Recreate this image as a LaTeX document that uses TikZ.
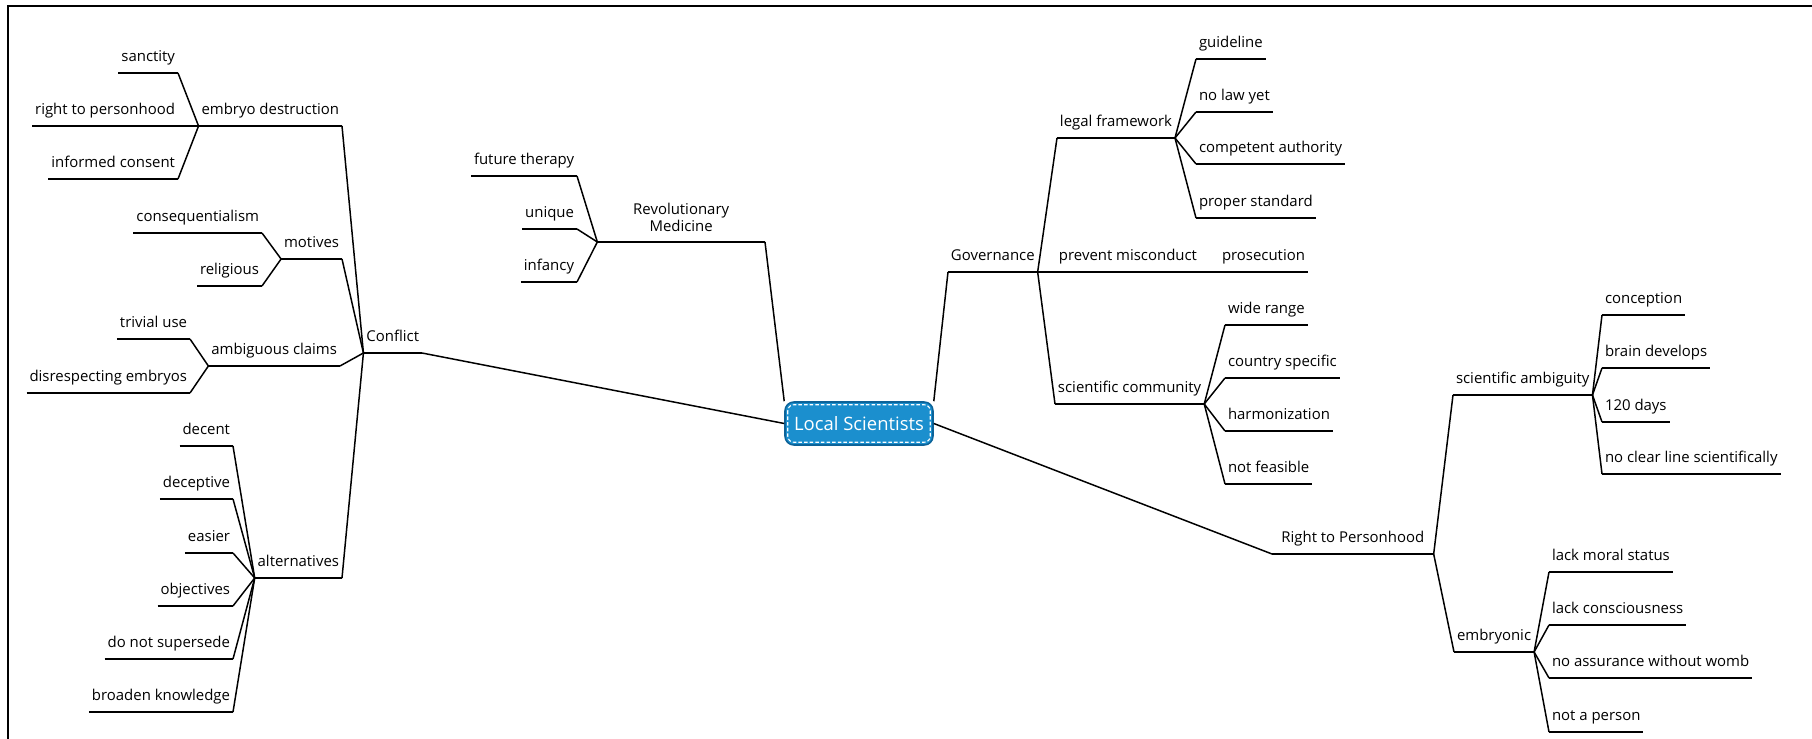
\documentclass[tikz,border=0pt]{standalone}
\usepackage{fontspec}
\setmainfont{Open Sans}
\usepackage{tikz}
\definecolor{MapBlue}{HTML}{1B8FCE}
\definecolor{MapBlueDark}{HTML}{0C6399}
\tikzset{
    % Connector style
    branch/.style={
        line width=0.85pt,
        draw=black
    },
    % Topic: text sitting on its own underline
    topic/.style={
        font=\fontsize{8.5}{10}\selectfont,
        inner xsep=1.5pt,
        inner ysep=0pt,
        text depth=6.5pt,
        append after command={(\tikzlastnode.south west) edge[branch] (\tikzlastnode.south east)}
    },
    % Topics left of the centre hang from their right end
    lefttopic/.style={
        topic,
        anchor=south east
    },
    % Topics right of the centre hang from their left end
    righttopic/.style={
        topic,
        anchor=south west
    },
    % Central topic
    centrenode/.style={
        draw=MapBlueDark,
        fill=MapBlue,
        text=white,
        line width=0.9pt,
        rounded corners=5pt,
        minimum width=2.96cm,
        minimum height=0.86cm,
        font=\fontsize{10.5}{12}\selectfont
    },
    % Dashed inner rim of the central topic
    centredash/.style={
        draw=white,
        line width=0.6pt,
        rounded corners=3.5pt,
        dash pattern=on 2pt off 1.2pt
    },
    % Page border
    borderline/.style={
        line width=0.9pt,
        draw=black
    }
}

\begin{document}
\begin{tikzpicture}[x=0.02cm, y=-0.02cm]
        \useasboundingbox (0,0) rectangle (1812,739);
        \draw[borderline] (8,739) -- (8,6) -- (1812,6);

        % Central topic
        \node[centrenode] (ls) at (859,423.5) {Local Scientists};
        \draw[centredash] ([xshift=2pt,yshift=-2pt]ls.north west) rectangle ([xshift=-2pt,yshift=2pt]ls.south east);

        % Branch 1: Conflict
        \node[lefttopic] (cf) at (422,353) {Conflict};
        \node[lefttopic] (ed) at (342,126) {embryo destruction};
        \node[lefttopic] (sa) at (178,73) {sanctity};
        \node[lefttopic] (rtp) at (178,126) {right to personhood};
        \node[lefttopic] (ic) at (178,179) {informed consent};
        \node[lefttopic] (mo) at (342,259) {motives};
        \node[lefttopic] (cq) at (262,233) {consequentialism};
        \node[lefttopic] (re) at (262,286) {religious};
        \node[lefttopic] (ac) at (340,366) {ambiguous claims};
        \node[lefttopic] (tu) at (190,339) {trivial use};
        \node[lefttopic] (de) at (190,393) {disrespecting embryos};
        \node[lefttopic] (al) at (342,578) {alternatives};
        \node[lefttopic] (dc) at (233,446) {decent};
        \node[lefttopic] (dv) at (233,499) {deceptive};
        \node[lefttopic] (ea) at (233,553) {easier};
        \node[lefttopic] (ob) at (233,606) {objectives};
        \node[lefttopic] (dn) at (233,659) {do not supersede};
        \node[lefttopic] (bk) at (233,712) {broaden knowledge};
        \draw[branch] (cf.south east) -- (ls.west);
        \draw[branch] (cf.south west) -- (ed.south east);
        \draw[branch] (cf.south west) -- (mo.south east);
        \draw[branch] (cf.south west) -- (ac.south east);
        \draw[branch] (cf.south west) -- (al.south east);
        \draw[branch] (ed.south west) -- (sa.south east);
        \draw[branch] (ed.south west) -- (rtp.south east);
        \draw[branch] (ed.south west) -- (ic.south east);
        \draw[branch] (mo.south west) -- (cq.south east);
        \draw[branch] (mo.south west) -- (re.south east);
        \draw[branch] (ac.south west) -- (tu.south east);
        \draw[branch] (ac.south west) -- (de.south east);
        \draw[branch] (al.south west) -- (dc.south east);
        \draw[branch] (al.south west) -- (dv.south east);
        \draw[branch] (al.south west) -- (ea.south east);
        \draw[branch] (al.south west) -- (ob.south east);
        \draw[branch] (al.south west) -- (dn.south east);
        \draw[branch] (al.south west) -- (bk.south east);

        % Branch 2: Revolutionary Medicine
        \node[lefttopic, align=center, text depth={}, inner ysep=5.5pt, minimum width=3.34cm] (rm) at (765,242) {Revolutionary\\Medicine};
        \node[lefttopic] (ft) at (577,176) {future therapy};
        \node[lefttopic] (un) at (577,229) {unique};
        \node[lefttopic] (inf) at (577,282) {infancy};
        \draw[branch] (rm.south east) -- (ls.north west);
        \draw[branch] (rm.south west) -- (ft.south east);
        \draw[branch] (rm.south west) -- (un.south east);
        \draw[branch] (rm.south west) -- (inf.south east);

        % Branch 3: Governance
        \node[righttopic] (gov) at (948,272) {Governance};
        \node[righttopic] (lf) at (1057,138) {legal framework};
        \node[righttopic] (gl) at (1196,59) {guideline};
        \node[righttopic] (nl) at (1196,112) {no law yet};
        \node[righttopic] (ca) at (1196,164) {competent authority};
        \node[righttopic] (ps) at (1196,218) {proper standard};
        \node[righttopic] (pm) at (1056,272) {prevent misconduct};
        \node[righttopic] (pr) at (1219,272) {prosecution};
        \node[righttopic] (sc) at (1055,404) {scientific community};
        \node[righttopic] (wr) at (1225,325) {wide range};
        \node[righttopic] (cs) at (1225,378) {country specific};
        \node[righttopic] (hz) at (1225,431) {harmonization};
        \node[righttopic] (nf) at (1225,484) {not feasible};
        \draw[branch] (gov.south west) -- (ls.north east);
        \draw[branch] (gov.south east) -- (lf.south west);
        \draw[branch] (gov.south east) -- (pm.south west);
        \draw[branch] (gov.south east) -- (sc.south west);
        \draw[branch] (lf.south east) -- (gl.south west);
        \draw[branch] (lf.south east) -- (nl.south west);
        \draw[branch] (lf.south east) -- (ca.south west);
        \draw[branch] (lf.south east) -- (ps.south west);
        \draw[branch] (pm.south east) -- (pr.south west);
        \draw[branch] (sc.south east) -- (wr.south west);
        \draw[branch] (sc.south east) -- (cs.south west);
        \draw[branch] (sc.south east) -- (hz.south west);
        \draw[branch] (sc.south east) -- (nf.south west);

        % Branch 4: Right to Personhood
        \node[righttopic, minimum width=3.22cm] (rp) at (1272,554) {Right to Personhood};
        \node[righttopic] (sam) at (1453,395) {scientific ambiguity};
        \node[righttopic] (co) at (1602,315) {conception};
        \node[righttopic] (bd) at (1602,368) {brain develops};
        \node[righttopic] (dd) at (1602,422) {120 days};
        \node[righttopic] (ncl) at (1602,474) {no clear line scientifically};
        \node[righttopic] (em) at (1454,652) {embryonic};
        \node[righttopic] (lms) at (1549,572) {lack moral status};
        \node[righttopic] (lc) at (1549,625) {lack consciousness};
        \node[righttopic] (na) at (1549,678) {no assurance without womb};
        \node[righttopic] (np) at (1549,732) {not a person};
        \draw[branch] (rp.south west) -- (ls.east);
        \draw[branch] (rp.south east) -- (sam.south west);
        \draw[branch] (rp.south east) -- (em.south west);
        \draw[branch] (sam.south east) -- (co.south west);
        \draw[branch] (sam.south east) -- (bd.south west);
        \draw[branch] (sam.south east) -- (dd.south west);
        \draw[branch] (sam.south east) -- (ncl.south west);
        \draw[branch] (em.south east) -- (lms.south west);
        \draw[branch] (em.south east) -- (lc.south west);
        \draw[branch] (em.south east) -- (na.south west);
        \draw[branch] (em.south east) -- (np.south west);
    \end{tikzpicture}
\end{document}
